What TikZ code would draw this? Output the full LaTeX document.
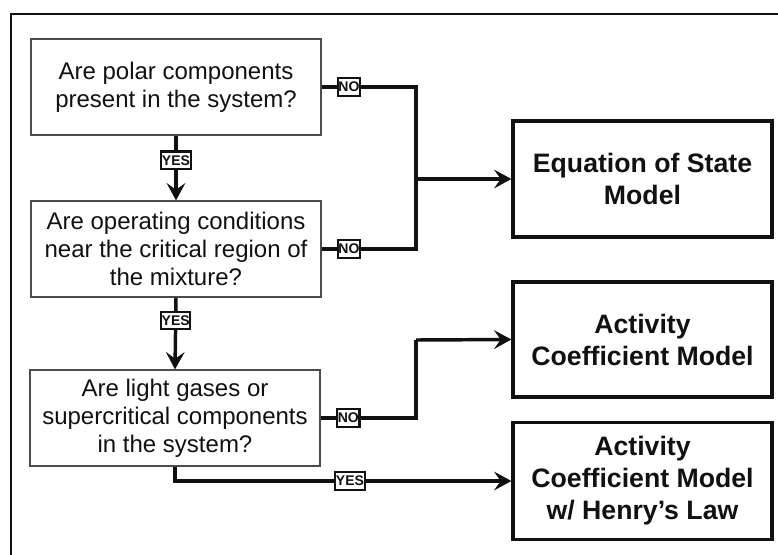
\documentclass[tikz,border=0pt]{standalone}
\usepackage{fontspec}
\setmainfont{Liberation Sans}
\usetikzlibrary{arrows.meta}
\definecolor{ink}{HTML}{111111}
\begin{document}
\begin{tikzpicture}[x=0.75pt,y=-0.75pt,
 qbox/.style={draw=black!70, line width=0.9pt, minimum width=217.5pt, minimum height=72pt, align=center, inner sep=0pt, font=\fontsize{18}{21}\selectfont, text=ink},
 mbox/.style={draw=ink, line width=2.4pt, minimum width=194.25pt, align=center, inner sep=0pt, font=\fontsize{20}{24}\selectfont\bfseries, text=ink},
 conn/.style={draw=ink, line width=2.6pt},
 tip/.style={-{Stealth[length=13pt,width=14pt,inset=5pt]}},
 lbl/.style={draw=ink, fill=white, line width=1.6pt, font=\fontsize{10.5}{10.5}\selectfont\bfseries, inner xsep=0.5pt, inner ysep=2.8pt, text=ink}
]
\useasboundingbox (0,0) rectangle (778,554);
\draw[ink, line width=1.6pt] (11,560) -- (11,14) -- (790,14);

\node[qbox] (b1) at (176,87) {Are polar components\\present in the system?};
\node[qbox] (b2) at (176,249) {Are operating conditions\\near the critical region of\\the mixture?};
\node[qbox] (b3) at (175,418) {Are light gases or\\supercritical components\\in the system?};

\node[mbox, minimum height=87pt] (eos) at (642.5,179) {Equation of State\\Model};
\node[mbox, minimum height=86.25pt] (acm) at (642.5,339.5) {Activity\\Coefficient Model};
\node[mbox, minimum height=87.75pt] (acmh) at (642.5,481) {Activity\\Coefficient Model\\w/ Henry’s Law};

\coordinate (j1) at (416,179);
\coordinate (j2) at (416,340);

\draw[conn,tip] (b1.south) -- node[lbl,pos=0.38]{YES} (b2.north);
\draw[conn,tip] (b2.south) -- node[lbl,pos=0.32]{YES} (b3.north);

\draw[conn] (b1.east) -- node[lbl,pos=0.29]{NO} (b1.east -| j1) -- (j1);
\draw[conn] (b2.east) -- node[lbl,pos=0.29]{NO} (b2.east -| j1) -- (j1);
\draw[conn,tip] (j1) -- (eos.west);

\draw[conn] (b3.east) -- node[lbl,pos=0.29]{NO} (b3.east -| j2) -- (j2);
\draw[conn,tip] (j2) -- (acm.west);

\draw[conn,tip] (b3.south) |- node[lbl,pos=0.76]{YES} (acmh.west);
\end{tikzpicture}
\end{document}
